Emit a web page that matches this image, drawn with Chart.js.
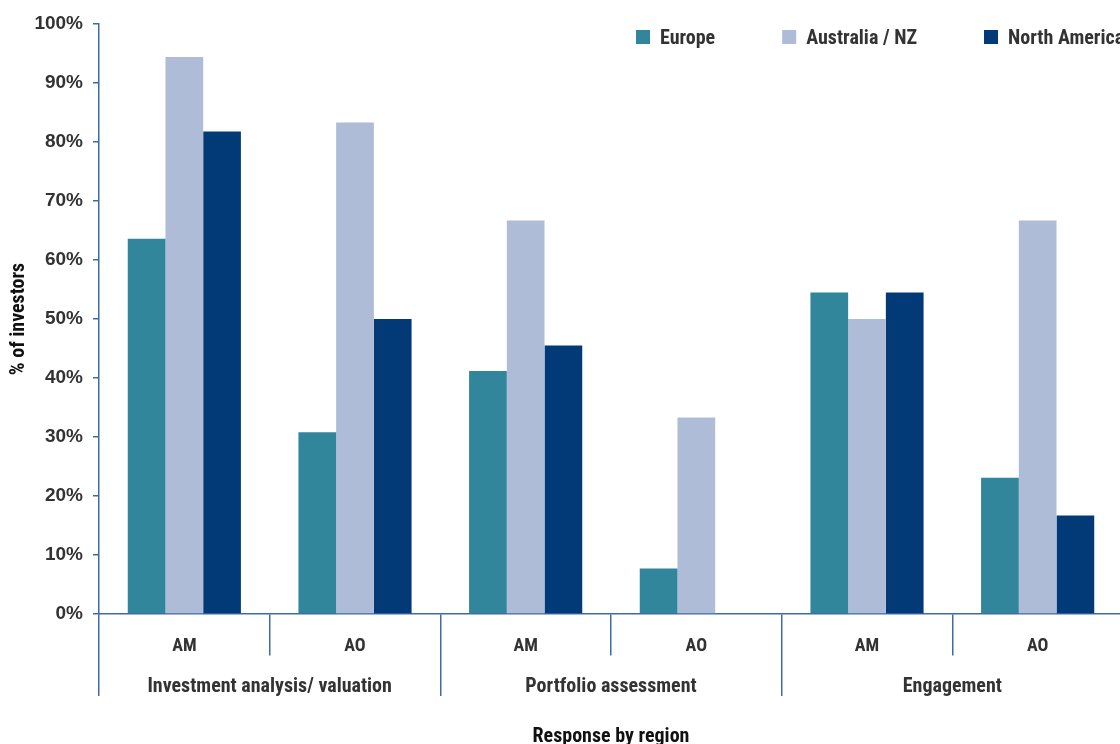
<!DOCTYPE html>
<html>
<head>
<meta charset="utf-8">
<title>Response by region</title>
<script src="https://cdn.jsdelivr.net/npm/chart.js@4/dist/chart.umd.min.js"></script>
<style>
  html, body { margin: 0; padding: 0; background: #fff; overflow: hidden; }
  #wrap { width: 1124px; height: 744px; position: relative; }
</style>
</head>
<body>
<div id="wrap"><canvas id="chart"></canvas></div>
<script>
// Categories (inner axis) and their groups (outer axis)
const categories = ['AM', 'AO', 'AM', 'AO', 'AM', 'AO'];
const groups = ['Investment analysis/ valuation', 'Portfolio assessment', 'Engagement'];

// Share of investors (%) by region
const europe = [63.6, 30.8, 41.2, 7.7, 54.5, 23.1];
const australiaNZ = [94.4, 83.3, 66.7, 33.3, 50.0, 66.7];
const northAmerica = [81.8, 50.0, 45.5, 0, 54.5, 16.7];

const seriesNames = ['Europe', 'Australia / NZ', 'North America'];
const seriesColors = ['#31869b', '#aebcd7', '#023a77'];

const axisColor = '#3f6ba5';
const textColor = '#333333';
const condensed = '"Roboto Condensed", "Open Sans", sans-serif';

// Legend drawn inside the plot, top right
const insideLegend = {
  id: 'insideLegend',
  afterDraw(chart) {
    const { ctx } = chart;
    const box = 14, top = 30, gap = 10, itemGap = 67;
    let x = 636;
    ctx.save();
    ctx.font = 'bold 20px ' + condensed;
    ctx.textBaseline = 'middle';
    ctx.textAlign = 'left';
    chart.data.datasets.forEach(ds => {
      ctx.fillStyle = ds.backgroundColor;
      ctx.fillRect(x, top, box, box);
      ctx.fillStyle = textColor;
      ctx.fillText(ds.label, x + box + gap, top + box / 2 + 1.5);
      x += box + gap + ctx.measureText(ds.label).width + itemGap;
    });
    ctx.restore();
  }
};

new Chart(document.getElementById('chart'), {
  type: 'bar',
  data: {
    labels: categories,
    datasets: [
      { label: seriesNames[0], data: europe, backgroundColor: seriesColors[0] },
      { label: seriesNames[1], data: australiaNZ, backgroundColor: seriesColors[1] },
      { label: seriesNames[2], data: northAmerica, backgroundColor: seriesColors[2] }
    ]
  },
  options: {
    responsive: true,
    maintainAspectRatio: false,
    animation: false,
    layout: { padding: { left: 0, top: 24, right: 1, bottom: 0 } },
    datasets: {
      bar: { barPercentage: 1, categoryPercentage: 0.663, borderWidth: 0 }
    },
    plugins: {
      legend: { display: false },
      tooltip: { enabled: false }
    },
    scales: {
      x: {
        type: 'category',
        position: 'bottom',
        weight: 0,
        z: 1,
        offset: true,
        border: { display: true, color: axisColor, width: 1.5 },
        grid: {
          offset: true,
          drawOnChartArea: false,
          drawTicks: true,
          tickLength: 82,
          color: axisColor,
          tickColor: axisColor,
          lineWidth: 1.5,
          // separators between AM and AO stop short; group boundaries run full length
          tickBorderDash: c => (c.index % 2 === 1) ? [41, 200] : []
        },
        ticks: {
          color: textColor,
          padding: -60,
          maxRotation: 0,
          font: { family: condensed, size: 18, weight: 'bold' }
        },
        afterFit: s => { s.height = 49; }
      },
      x2: {
        type: 'category',
        position: 'bottom',
        weight: 1,
        labels: groups,
        offset: true,
        border: { display: false },
        grid: { display: false },
        ticks: {
          color: textColor,
          padding: 4,
          maxRotation: 0,
          font: { family: condensed, size: 20, weight: 'bold' }
        },
        title: {
          display: true,
          text: 'Response by region',
          color: '#111111',
          padding: { top: 0, bottom: -5 },
          font: { family: condensed, size: 20, weight: 'bold' }
        },
        afterFit: s => { s.height = 81; }
      },
      y: {
        min: 0,
        max: 100,
        border: { display: true, color: axisColor, width: 1.5 },
        grid: {
          drawOnChartArea: false,
          drawTicks: true,
          tickLength: 6,
          color: axisColor,
          tickColor: axisColor,
          lineWidth: 1.5
        },
        ticks: {
          stepSize: 10,
          padding: 10,
          color: textColor,
          font: { family: '"Liberation Sans", Arial, sans-serif', size: 19, weight: 'bold' },
          callback: v => v + '%'
        },
        title: {
          display: true,
          text: '% of investors',
          color: '#111111',
          padding: { top: 6.5, bottom: 0 },
          font: { family: condensed, size: 20, weight: 'bold' }
        },
        afterFit: s => { s.width = 99; }
      }
    }
  },
  plugins: [insideLegend]
});
</script>
</body>
</html>
